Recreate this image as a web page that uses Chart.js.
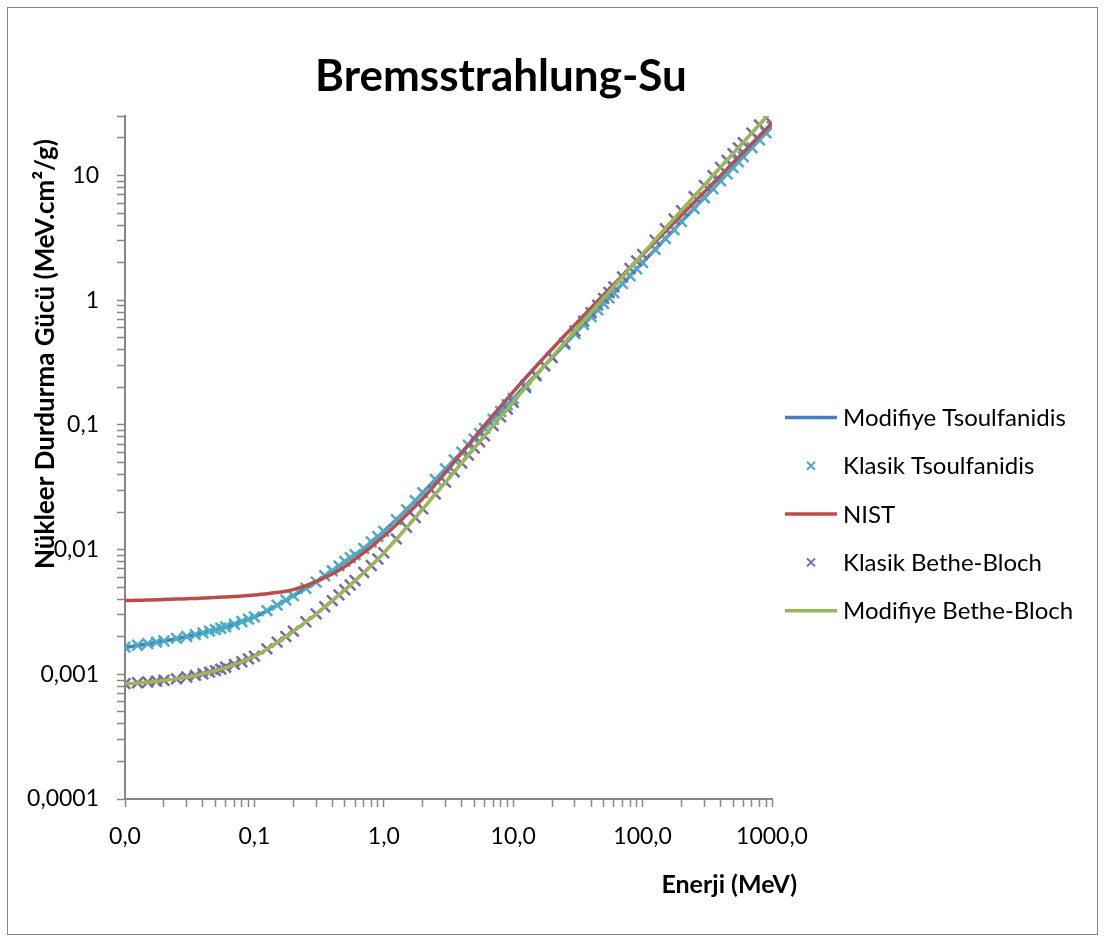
<!DOCTYPE html>
<html>
<head>
<meta charset="utf-8">
<title>Bremsstrahlung-Su</title>
<script src="https://cdn.jsdelivr.net/npm/chart.js@4.4.1/dist/chart.umd.min.js"></script>
<style>
  html, body { margin: 0; padding: 0; background: #fff; }
</style>
</head>
<body>
<canvas id="stoppingChart" width="1105" height="942"></canvas>
<script>
// Energies (MeV), NIST ESTAR grid
var energy = [0.01, 0.0125, 0.015, 0.0175, 0.02, 0.025, 0.03, 0.035, 0.04, 0.045, 0.05, 0.055, 0.06, 0.07, 0.08, 0.09,
  0.1, 0.125, 0.15, 0.175, 0.2, 0.25, 0.3, 0.35, 0.4, 0.45, 0.5, 0.55, 0.6, 0.7, 0.8, 0.9,
  1, 1.25, 1.5, 1.75, 2, 2.5, 3, 3.5, 4, 4.5, 5, 5.5, 6, 7, 8, 9,
  10, 12.5, 15, 17.5, 20, 25, 30, 35, 40, 45, 50, 55, 60, 70, 80, 90,
  100, 125, 150, 175, 200, 250, 300, 350, 400, 450, 500, 550, 600, 700, 800, 900, 1000];

// Stopping power values (MeV.cm2/g)
var modifiyeTsoulfanidis = [0.00164, 0.00170, 0.00175, 0.00180, 0.00185, 0.00193, 0.00201, 0.00208, 0.00215, 0.00221, 0.00228, 0.00234, 0.00240, 0.00252, 0.00264, 0.00276,
  0.00287, 0.00323, 0.00358, 0.00393, 0.00426, 0.00489, 0.00549, 0.00615, 0.00675, 0.00740, 0.00802, 0.00860, 0.00911, 0.0102, 0.0115, 0.0127,
  0.0140, 0.0174, 0.0209, 0.0247, 0.0286, 0.0365, 0.0444, 0.0524, 0.0605, 0.0687, 0.0769, 0.0853, 0.0938, 0.111, 0.128, 0.145,
  0.163, 0.207, 0.253, 0.299, 0.347, 0.442, 0.540, 0.637, 0.738, 0.838, 0.940, 1.045, 1.148, 1.358, 1.570, 1.786,
  2.004, 2.553, 3.119, 3.681, 4.266, 5.433, 6.637, 7.834, 9.078, 10.30, 11.56, 12.85, 14.13, 16.71, 19.32, 21.98, 24.66];

var klasikTsoulfanidis = [0.00165, 0.00171, 0.00176, 0.00181, 0.00185, 0.00194, 0.00201, 0.00208, 0.00215, 0.00222, 0.00228, 0.00234, 0.00240, 0.00252, 0.00265, 0.00277,
  0.00288, 0.00324, 0.00359, 0.00394, 0.00427, 0.00490, 0.00550, 0.00617, 0.00676, 0.00741, 0.00804, 0.00861, 0.00912, 0.0102, 0.0115, 0.0127,
  0.0140, 0.0174, 0.0209, 0.0247, 0.0286, 0.0365, 0.0444, 0.0524, 0.0605, 0.0687, 0.0769, 0.0853, 0.0938, 0.111, 0.128, 0.145,
  0.163, 0.207, 0.253, 0.299, 0.347, 0.442, 0.540, 0.637, 0.738, 0.838, 0.940, 1.045, 1.148, 1.358, 1.570, 1.786,
  2.004, 2.553, 3.119, 3.681, 4.266, 5.433, 6.637, 7.834, 9.078, 10.30, 11.56, 12.85, 14.13, 16.71, 19.32, 21.98, 24.66];

var nist = [0.00390, 0.00392, 0.00394, 0.00396, 0.00398, 0.00401, 0.00404, 0.00406, 0.00409, 0.00411, 0.00413, 0.00415, 0.00417, 0.00421, 0.00425, 0.00429,
  0.00433, 0.00442, 0.00452, 0.00464, 0.00478, 0.00513, 0.00556, 0.00596, 0.00638, 0.00684, 0.00733, 0.00785, 0.00838, 0.00944, 0.0105, 0.0117,
  0.0128, 0.0158, 0.0190, 0.0223, 0.0257, 0.0333, 0.0414, 0.0505, 0.0598, 0.0693, 0.0793, 0.0891, 0.0993, 0.120, 0.141, 0.162,
  0.184, 0.239, 0.294, 0.351, 0.407, 0.521, 0.635, 0.750, 0.867, 0.984, 1.102, 1.219, 1.340, 1.581, 1.824, 2.070,
  2.317, 2.931, 3.548, 4.178, 4.808, 6.081, 7.362, 8.670, 9.977, 11.30, 12.65, 13.96, 15.31, 18.03, 20.75, 23.50, 26.30];

var klasikBetheBloch = [0.000841, 0.000855, 0.000867, 0.000881, 0.000895, 0.000920, 0.000951, 0.000980, 0.00101, 0.00104, 0.00107, 0.00110, 0.00114, 0.00120, 0.00126, 0.00133,
  0.00140, 0.00160, 0.00181, 0.00201, 0.00222, 0.00264, 0.00305, 0.00348, 0.00390, 0.00433, 0.00476, 0.00520, 0.00565, 0.00655, 0.00746, 0.00840,
  0.00944, 0.0122, 0.0151, 0.0181, 0.0212, 0.0279, 0.0348, 0.0421, 0.0495, 0.0573, 0.0653, 0.0733, 0.0817, 0.0986, 0.116, 0.134,
  0.152, 0.199, 0.248, 0.298, 0.349, 0.455, 0.565, 0.679, 0.794, 0.912, 1.033, 1.153, 1.279, 1.535, 1.795, 2.061,
  2.333, 3.027, 3.741, 4.477, 5.224, 6.761, 8.337, 9.954, 11.59, 13.24, 14.93, 16.63, 18.37, 21.88, 25.47, 29.11, null];

var modifiyeBetheBloch = [0.000838, 0.000852, 0.000865, 0.000879, 0.000893, 0.000919, 0.000950, 0.000979, 0.00101, 0.00104, 0.00107, 0.00110, 0.00113, 0.00120, 0.00126, 0.00133,
  0.00139, 0.00159, 0.00180, 0.00200, 0.00221, 0.00263, 0.00304, 0.00347, 0.00389, 0.00432, 0.00475, 0.00519, 0.00563, 0.00653, 0.00744, 0.00837,
  0.00940, 0.0121, 0.0150, 0.0180, 0.0211, 0.0278, 0.0347, 0.0420, 0.0494, 0.0572, 0.0652, 0.0733, 0.0818, 0.0988, 0.116, 0.134,
  0.153, 0.200, 0.249, 0.300, 0.351, 0.458, 0.569, 0.684, 0.800, 0.919, 1.041, 1.162, 1.289, 1.547, 1.809, 2.078,
  2.352, 3.052, 3.772, 4.514, 5.268, 6.818, 8.408, 10.04, 11.69, 13.36, 15.06, 16.78, 18.53, 22.08, 25.70, 29.38, 33.0];

// Axis ticks and their labels
var xTickValues = [0.01, 0.1, 1, 10, 100, 1000];
var xTickLabels = ['0,0', '0,1', '1,0', '10,0', '100,0', '1000,0'];
var yTickValues = [0.0001, 0.001, 0.01, 0.1, 1, 10];
var yTickLabels = ['0,0001', '0,001', '0,01', '0,1', '1', '10'];

var chartTitle = 'Bremsstrahlung-Su';
var xTitle = 'Enerji (MeV)';
var yTitle = 'Nükleer Durdurma Gücü (MeV.cm²/g)';

var FONT = 'Lato, "Liberation Sans", sans-serif';
var AXIS_GREY = '#868686';

function toPoints(vals) {
  return energy.map(function (e, i) { return { x: e, y: vals[i] }; });
}

// 1..9 x every decade, up to the axis max
function minorTicks(decades, max) {
  var out = [];
  decades.forEach(function (d) {
    for (var m = 1; m <= 9; m++) {
      var v = m * d;
      if (v <= max * 1.0001) out.push({ value: v });
    }
  });
  return out;
}

function labelFor(values, labels) {
  return function (value) {
    for (var i = 0; i < values.length; i++) {
      if (Math.abs(values[i] - value) / values[i] < 1e-6) return labels[i];
    }
    return '';
  };
}

// frame, titles and legend, placed like the original sheet
var decorPlugin = {
  id: 'decor',
  afterDraw: function (chart) {
    var ctx = chart.ctx;
    ctx.save();
    ctx.strokeStyle = AXIS_GREY;
    ctx.lineWidth = 1;
    ctx.strokeRect(7.5, 7.5, 1090, 927);

    ctx.fillStyle = '#000';
    ctx.textBaseline = 'alphabetic';
    ctx.font = 'bold 44px ' + FONT;
    ctx.textAlign = 'center';
    ctx.fillText(chartTitle, 501, 91);

    ctx.font = 'bold 25px ' + FONT;
    ctx.textAlign = 'right';
    ctx.fillText(xTitle, 797, 893);

    ctx.save();
    ctx.font = 'bold 26px ' + FONT;
    ctx.translate(54, 354);
    ctx.rotate(-Math.PI / 2);
    ctx.textAlign = 'center';
    ctx.fillText(yTitle, 0, 0);
    ctx.restore();

    // legend
    ctx.font = '24px ' + FONT;
    ctx.textAlign = 'left';
    chart.data.datasets.forEach(function (ds, i) {
      var cy = 417.5 + i * 48.3;
      ctx.strokeStyle = ds.borderColor;
      if (ds.showLine === false) {
        var h = 4;
        ctx.lineWidth = 2;
        ctx.beginPath();
        ctx.moveTo(811 - h, cy - h); ctx.lineTo(811 + h, cy + h);
        ctx.moveTo(811 - h, cy + h); ctx.lineTo(811 + h, cy - h);
        ctx.stroke();
      } else {
        ctx.lineWidth = 3.5;
        ctx.beginPath();
        ctx.moveTo(785, cy); ctx.lineTo(837, cy);
        ctx.stroke();
      }
      ctx.fillStyle = '#000';
      ctx.fillText(ds.label, 843, cy + 8.6);
    });
    ctx.restore();
  }
};

var ctx = document.getElementById('stoppingChart');
var myChart = new Chart(ctx, {
  type: 'line',
  data: {
    datasets: [
      {
        label: 'Modifiye Tsoulfanidis',
        data: toPoints(modifiyeTsoulfanidis),
        borderColor: '#4A7EBB',
        borderWidth: 3.5,
        pointRadius: 0,
        tension: 0.3,
        fill: false,
        order: 5
      },
      {
        label: 'Klasik Tsoulfanidis',
        data: toPoints(klasikTsoulfanidis),
        borderColor: '#4BACC6',
        backgroundColor: '#4BACC6',
        showLine: false,
        pointStyle: 'crossRot',
        pointRadius: 7.5,
        pointBorderWidth: 2.5,
        order: 4
      },
      {
        label: 'NIST',
        data: toPoints(nist),
        borderColor: '#BE4B48',
        borderWidth: 3.5,
        pointRadius: 0,
        tension: 0.3,
        fill: false,
        order: 3
      },
      {
        label: 'Klasik Bethe-Bloch',
        data: toPoints(klasikBetheBloch),
        borderColor: '#8064A2',
        backgroundColor: '#8064A2',
        showLine: false,
        pointStyle: 'crossRot',
        pointRadius: 7.5,
        pointBorderWidth: 2.5,
        order: 2
      },
      {
        label: 'Modifiye Bethe-Bloch',
        data: toPoints(modifiyeBetheBloch),
        borderColor: '#98B954',
        borderWidth: 3.5,
        pointRadius: 0,
        tension: 0.3,
        fill: false,
        order: 1
      }
    ]
  },
  options: {
    responsive: false,
    devicePixelRatio: 1,
    animation: false,
    events: [],
    layout: { padding: { top: 116, right: 333, bottom: 0, left: 0 } },
    plugins: {
      legend: { display: false },
      title: { display: false },
      tooltip: { enabled: false }
    },
    scales: {
      x: {
        type: 'logarithmic',
        min: 0.01,
        max: 1000,
        border: { color: AXIS_GREY, width: 2 },
        grid: { drawOnChartArea: false, drawTicks: true, tickLength: 8, tickColor: AXIS_GREY, tickWidth: 1.5 },
        ticks: {
          autoSkip: false, maxRotation: 0, minRotation: 0, padding: 16, color: '#000',
          font: { family: FONT, size: 23 },
          callback: labelFor(xTickValues, xTickLabels)
        },
        afterBuildTicks: function (scale) { scale.ticks = minorTicks([0.01, 0.1, 1, 10, 100, 1000], 1000); },
        afterFit: function (scale) { scale.height = 143; }
      },
      y: {
        type: 'logarithmic',
        min: 0.0001,
        max: 30,
        border: { color: AXIS_GREY, width: 2 },
        grid: { drawOnChartArea: false, drawTicks: true, tickLength: 8, tickColor: AXIS_GREY, tickWidth: 1.5 },
        ticks: {
          autoSkip: false, padding: 18, color: '#000',
          font: { family: FONT, size: 23 },
          callback: labelFor(yTickValues, yTickLabels)
        },
        afterBuildTicks: function (scale) { scale.ticks = minorTicks([0.0001, 0.001, 0.01, 0.1, 1, 10], 30); },
        afterFit: function (scale) { scale.width = 125; }
      }
    }
  },
  plugins: [decorPlugin]
});
</script>
</body>
</html>
